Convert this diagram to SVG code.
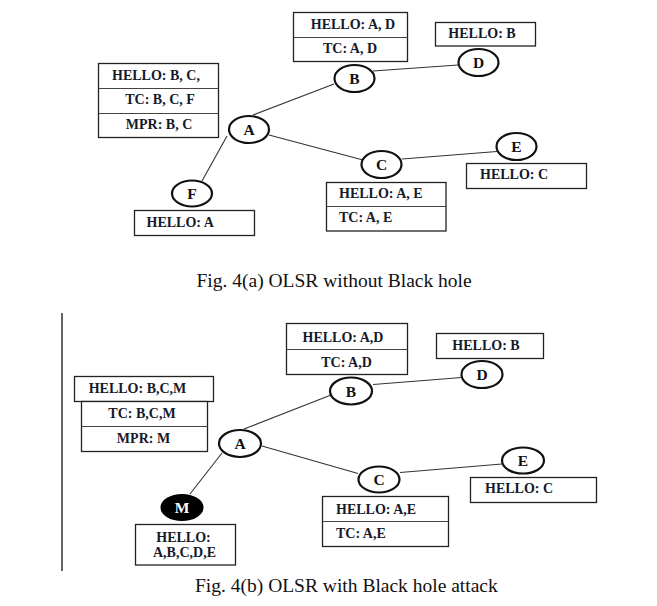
<svg xmlns="http://www.w3.org/2000/svg" width="657" height="606" viewBox="0 0 657 606">
<style>
.bx{fill:#fff;stroke:#222;stroke-width:1.3}
.dv{stroke:#444;stroke-width:1}
.nd{fill:#fff;stroke:#111;stroke-width:2.2}
.ndb{fill:#000;stroke:#000;stroke-width:2}
.e{stroke:#333;stroke-width:1.1;fill:none}
.t{font-family:"Liberation Serif","Times New Roman",serif;font-weight:bold;font-size:14px;fill:#151a2a}
.c{text-anchor:middle}
.nl{font-family:"Liberation Serif","Times New Roman",serif;font-weight:bold;font-size:15.5px;fill:#111;text-anchor:middle}
.cap{font-family:"Liberation Serif","Times New Roman",serif;font-size:19.5px;fill:#111}
</style>
<rect width="657" height="606" fill="#fff"/>

<!-- ============ Fig 4(a) ============ -->
<g id="edges-a">
<line class="e" x1="253" y1="115" x2="334" y2="84"/>
<line class="e" x1="373" y1="71" x2="458" y2="65"/>
<line class="e" x1="269" y1="135" x2="363" y2="160"/>
<line class="e" x1="402" y1="159" x2="497" y2="151.5"/>
<line class="e" x1="227" y1="136" x2="202" y2="181"/>
</g>

<g id="a-box-A">
<rect class="bx" x="98.5" y="63.5" width="120" height="74"/>
<line class="dv" x1="98.5" y1="88.5" x2="218.5" y2="88.5"/>
<line class="dv" x1="98.5" y1="113.5" x2="218.5" y2="113.5"/>
<text class="t c" x="156" y="80">HELLO: B, C,</text>
<text class="t c" x="160" y="104">TC: B, C, F</text>
<text class="t c" x="159" y="129">MPR: B, C</text>
</g>
<g id="a-box-B">
<rect class="bx" x="293.5" y="12.5" width="114" height="49"/>
<line class="dv" x1="293.5" y1="37.5" x2="407.5" y2="37.5"/>
<text class="t c" x="353" y="29">HELLO: A, D</text>
<text class="t c" x="350" y="53">TC: A, D</text>
</g>
<g id="a-box-D">
<rect class="bx" x="435.5" y="22.5" width="100" height="23.5"/>
<text class="t c" x="482" y="38">HELLO: B</text>
</g>
<g id="a-box-C">
<rect class="bx" x="326.5" y="182.5" width="119.5" height="48.5"/>
<line class="dv" x1="326.5" y1="206.5" x2="446" y2="206.5"/>
<text class="t" x="339" y="198">HELLO: A, E</text>
<text class="t" x="339" y="222">TC: A, E</text>
</g>
<g id="a-box-E">
<rect class="bx" x="466.5" y="163.5" width="120" height="25"/>
<text class="t" x="480" y="179">HELLO: C</text>
</g>
<g id="a-box-F">
<rect class="bx" x="134.5" y="210.5" width="120" height="25"/>
<text class="t" x="146.5" y="227">HELLO: A</text>
</g>

<g id="a-node-A"><ellipse class="nd" cx="249" cy="129.5" rx="20" ry="13.5"/><text class="nl" x="249" y="135">A</text></g>
<g id="a-node-B"><ellipse class="nd" cx="354.5" cy="78.5" rx="20" ry="13.5"/><text class="nl" x="354.5" y="84">B</text></g>
<g id="a-node-D"><ellipse class="nd" cx="478.5" cy="62.5" rx="20" ry="13.5"/><text class="nl" x="478.5" y="68">D</text></g>
<g id="a-node-C"><ellipse class="nd" cx="381.5" cy="164.5" rx="20" ry="13.5"/><text class="nl" x="381.5" y="170">C</text></g>
<g id="a-node-E"><ellipse class="nd" cx="516.5" cy="146.5" rx="20" ry="13.5"/><text class="nl" x="516.5" y="152">E</text></g>
<g id="a-node-F"><ellipse class="nd" cx="192" cy="193.5" rx="20" ry="13"/><text class="nl" x="192" y="199">F</text></g>

<text class="cap" x="196.5" y="286.5">Fig. 4(a) OLSR without Black hole</text>

<!-- ============ Fig 4(b) ============ -->
<line x1="62" y1="313" x2="62" y2="571" stroke="#111" stroke-width="1.3"/>

<g id="edges-b">
<line class="e" x1="244" y1="429" x2="331" y2="395"/>
<line class="e" x1="373" y1="384.5" x2="462" y2="377.5"/>
<line class="e" x1="262" y1="446" x2="358" y2="473.5"/>
<line class="e" x1="400" y1="472.5" x2="502" y2="464"/>
<line class="e" x1="222" y1="453" x2="190" y2="494"/>
</g>

<g id="b-box-A">
<rect class="bx" x="74.5" y="376.5" width="139" height="25"/>
<rect class="bx" x="81.5" y="401.5" width="126" height="50"/>
<line class="dv" x1="81.5" y1="426.5" x2="207.5" y2="426.5"/>
<text class="t c" x="137.5" y="393">HELLO: B,C,M</text>
<text class="t c" x="142" y="418">TC: B,C,M</text>
<text class="t c" x="143.5" y="443">MPR: M</text>
</g>
<g id="b-box-B">
<rect class="bx" x="286.5" y="323.5" width="121" height="51"/>
<line class="dv" x1="286.5" y1="349.5" x2="407.5" y2="349.5"/>
<text class="t c" x="343" y="342">HELLO: A,D</text>
<text class="t c" x="346.5" y="366.5">TC: A,D</text>
</g>
<g id="b-box-D">
<rect class="bx" x="436.5" y="333.5" width="107" height="25"/>
<text class="t c" x="486" y="350">HELLO: B</text>
</g>
<g id="b-box-C">
<rect class="bx" x="322.5" y="496.5" width="126" height="50"/>
<line class="dv" x1="322.5" y1="521.5" x2="448.5" y2="521.5"/>
<text class="t" x="336" y="513.5">HELLO: A,E</text>
<text class="t" x="336" y="538">TC: A,E</text>
</g>
<g id="b-box-E">
<rect class="bx" x="470.5" y="477.5" width="126" height="25"/>
<text class="t" x="485" y="493">HELLO: C</text>
</g>
<g id="b-box-M">
<rect class="bx" x="135.5" y="524.5" width="100" height="40.5"/>
<text class="t c" x="183.5" y="541.5">HELLO:</text>
<text class="t c" x="184.5" y="557">A,B,C,D,E</text>
</g>

<g id="b-node-A"><ellipse class="nd" cx="240" cy="443.5" rx="21" ry="13.5"/><text class="nl" x="240" y="449">A</text></g>
<g id="b-node-B"><ellipse class="nd" cx="351" cy="391" rx="21" ry="13.5"/><text class="nl" x="351" y="396.5">B</text></g>
<g id="b-node-D"><ellipse class="nd" cx="482" cy="374.5" rx="20.5" ry="13.5"/><text class="nl" x="482" y="380">D</text></g>
<g id="b-node-C"><ellipse class="nd" cx="379" cy="479.5" rx="20.5" ry="13"/><text class="nl" x="379" y="485">C</text></g>
<g id="b-node-E"><ellipse class="nd" cx="523" cy="460.5" rx="21" ry="13"/><text class="nl" x="523" y="466">E</text></g>
<g id="b-node-M"><ellipse class="ndb" cx="182" cy="507.5" rx="20.5" ry="12.5"/><text class="nl" x="182" y="513" fill="#fff" style="fill:#fff">M</text></g>

<text class="cap" x="195" y="591.5">Fig. 4(b) OLSR with Black hole attack</text>
</svg>
